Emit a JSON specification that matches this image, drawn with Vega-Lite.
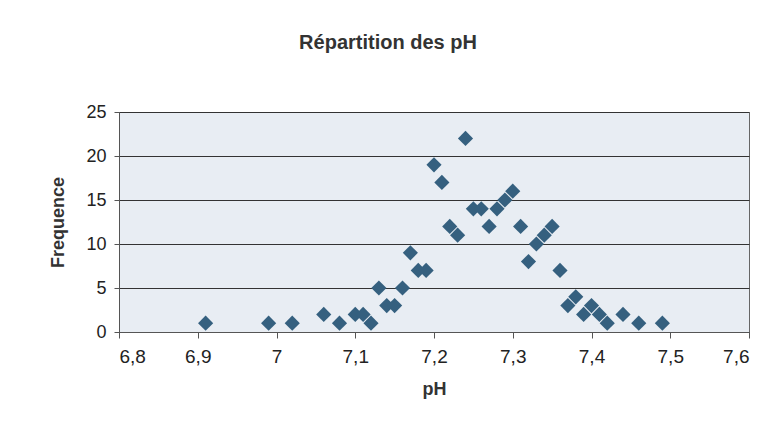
{
  "$schema": "https://vega.github.io/schema/vega-lite/v6.json",
  "autosize": "none",
  "width": 630,
  "height": 220,
  "padding": {"left": 119, "top": 112, "right": 24, "bottom": 112},
  "background": "white",
  "title": {
    "text": "Répartition des pH",
    "font": "Liberation Sans",
    "fontSize": 20,
    "fontWeight": "bold",
    "color": "#333333",
    "anchor": "middle",
    "dx": -46,
    "offset": 50
  },
  "config": {
    "view": {"fill": "#e8edf3", "stroke": "#666666", "strokeWidth": 1}
  },
  "data": {
    "values": [
      {"pH": 6.91, "Frequence": 1},
      {"pH": 6.99, "Frequence": 1},
      {"pH": 7.02, "Frequence": 1},
      {"pH": 7.06, "Frequence": 2},
      {"pH": 7.08, "Frequence": 1},
      {"pH": 7.10, "Frequence": 2},
      {"pH": 7.11, "Frequence": 2},
      {"pH": 7.12, "Frequence": 1},
      {"pH": 7.13, "Frequence": 5},
      {"pH": 7.14, "Frequence": 3},
      {"pH": 7.15, "Frequence": 3},
      {"pH": 7.16, "Frequence": 5},
      {"pH": 7.17, "Frequence": 9},
      {"pH": 7.18, "Frequence": 7},
      {"pH": 7.19, "Frequence": 7},
      {"pH": 7.20, "Frequence": 19},
      {"pH": 7.21, "Frequence": 17},
      {"pH": 7.22, "Frequence": 12},
      {"pH": 7.23, "Frequence": 11},
      {"pH": 7.24, "Frequence": 22},
      {"pH": 7.25, "Frequence": 14},
      {"pH": 7.26, "Frequence": 14},
      {"pH": 7.27, "Frequence": 12},
      {"pH": 7.28, "Frequence": 14},
      {"pH": 7.29, "Frequence": 15},
      {"pH": 7.30, "Frequence": 16},
      {"pH": 7.31, "Frequence": 12},
      {"pH": 7.32, "Frequence": 8},
      {"pH": 7.33, "Frequence": 10},
      {"pH": 7.34, "Frequence": 11},
      {"pH": 7.35, "Frequence": 12},
      {"pH": 7.36, "Frequence": 7},
      {"pH": 7.37, "Frequence": 3},
      {"pH": 7.38, "Frequence": 4},
      {"pH": 7.39, "Frequence": 2},
      {"pH": 7.40, "Frequence": 3},
      {"pH": 7.41, "Frequence": 2},
      {"pH": 7.42, "Frequence": 1},
      {"pH": 7.44, "Frequence": 2},
      {"pH": 7.46, "Frequence": 1},
      {"pH": 7.49, "Frequence": 1}
    ]
  },
  "mark": {"type": "point", "shape": "diamond", "filled": true, "size": 230, "color": "#35607f", "opacity": 1},
  "encoding": {
    "x": {
      "field": "pH",
      "type": "quantitative",
      "scale": {"domain": [6.8, 7.6], "nice": false, "zero": false},
      "axis": {
        "values": [6.8, 6.9, 7.0, 7.1, 7.2, 7.3, 7.4, 7.5, 7.6],
        "labelExpr": "replace(format(datum.value, '.1~f'), '.', ',')",
        "grid": false,
        "title": "pH",
        "titleFont": "Liberation Sans",
        "titleFontSize": 18,
        "titleFontWeight": "bold",
        "titleColor": "#333333",
        "titlePadding": 14,
        "labelFont": "Liberation Sans",
        "labelFontSize": 19,
        "labelColor": "#222222",
        "labelPadding": 9,
        "domainColor": "#555555",
        "tickColor": "#555555",
        "tickSize": 6
      }
    },
    "y": {
      "field": "Frequence",
      "type": "quantitative",
      "scale": {"domain": [0, 25], "nice": false},
      "axis": {
        "values": [0, 5, 10, 15, 20, 25],
        "grid": true,
        "gridColor": "#333333",
        "gridWidth": 1,
        "title": "Frequence",
        "titleFont": "Liberation Sans",
        "titleFontSize": 18,
        "titleFontWeight": "bold",
        "titleColor": "#333333",
        "titlePadding": 18,
        "labelFont": "Liberation Sans",
        "labelFontSize": 18,
        "labelColor": "#222222",
        "labelPadding": 8,
        "domainColor": "#555555",
        "tickColor": "#555555",
        "tickSize": 5
      }
    }
  }
}
